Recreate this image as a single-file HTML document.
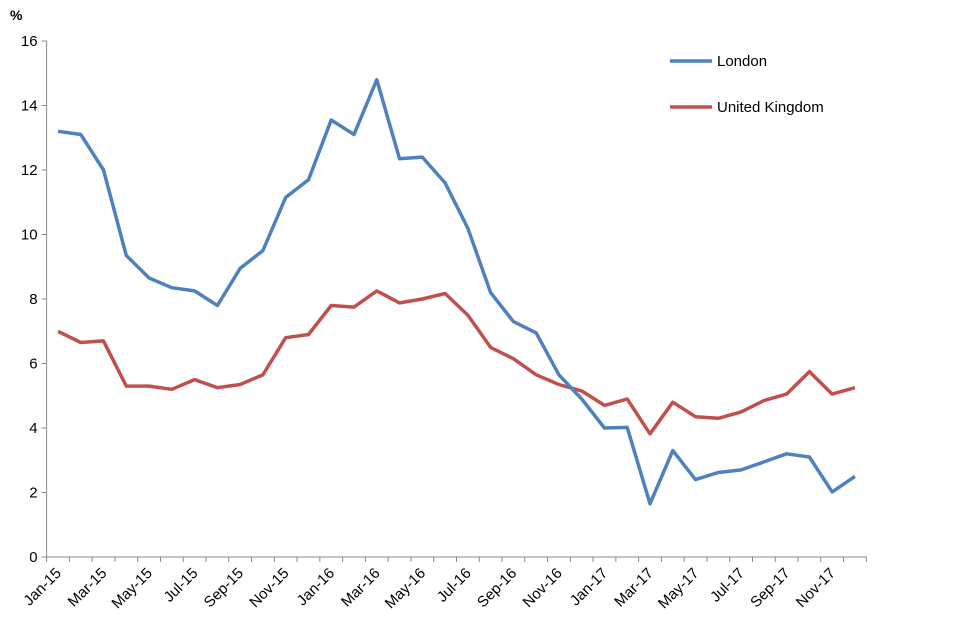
<!DOCTYPE html>
<html><head><style>body{margin:0;background:#fff}svg{display:block}text{font-family:"Liberation Sans",sans-serif;font-size:15px;fill:#000}</style></head>
<body>
<svg width="960" height="640" viewBox="0 0 960 640" id="c"></svg>
<script>
const L=[13.2,13.1,12.0,9.35,8.65,8.35,8.25,7.8,8.95,9.5,11.15,11.7,13.55,13.1,14.8,12.35,12.4,11.6,10.2,8.2,7.3,6.95,5.65,4.9,4.0,4.02,1.65,3.3,2.4,2.62,2.7,2.95,3.2,3.1,2.02,2.5];
const U=[7.0,6.65,6.7,5.3,5.3,5.2,5.5,5.25,5.35,5.65,6.8,6.9,7.8,7.75,8.25,7.88,8.0,8.17,7.5,6.5,6.15,5.65,5.35,5.15,4.7,4.9,3.82,4.8,4.35,4.3,4.5,4.85,5.05,5.75,5.05,5.25];
const x0=46.6,w=22.77,y0=557,s=32.25;
let h='';
h+=`<line x1="${x0}" y1="41" x2="${x0}" y2="${y0}" stroke="#888"/>`;
for(let v=0;v<=16;v+=2){const y=y0-v*s;h+=`<line x1="${x0-5}" y1="${y}" x2="${x0}" y2="${y}" stroke="#888"/><text x="${x0-9}" y="${y+5}" text-anchor="end">${v}</text>`;}
h+=`<text x="10" y="20" style="font-weight:bold;font-size:14px">%</text>`;
h+=`<line x1="${x0}" y1="${y0}" x2="${x0+36*w}" y2="${y0}" stroke="#888"/>`;
for(let i=0;i<=36;i++){const x=x0+i*w;h+=`<line x1="${x}" y1="${y0}" x2="${x}" y2="${y0+5}" stroke="#888"/>`;}
const m=['Jan','Mar','May','Jul','Sep','Nov'];
for(let i=0;i<36;i+=2){const x=x0+(i+0.5)*w+4,y=574;const lab=m[(i%12)/2]+'-'+(15+Math.floor(i/12));h+=`<text x="${x}" y="${y}" text-anchor="end" transform="rotate(-45 ${x} ${y})">${lab}</text>`;}
function p(d,c){return `<polyline fill="none" stroke="${c}" stroke-width="3.5" stroke-linejoin="round" points="${d.map((v,i)=>(x0+(i+0.5)*w).toFixed(1)+','+(y0-v*s).toFixed(1)).join(' ')}"/>`;}
h+=p(U,'#c0504d')+p(L,'#4f81bd');
h+=`<line x1="670" y1="61" x2="712" y2="61" stroke="#4f81bd" stroke-width="3.5"/><text x="717" y="66">London</text>`;
h+=`<line x1="670" y1="107" x2="712" y2="107" stroke="#c0504d" stroke-width="3.5"/><text x="717" y="112">United Kingdom</text>`;
document.getElementById('c').innerHTML=h;
</script>
</body></html>
